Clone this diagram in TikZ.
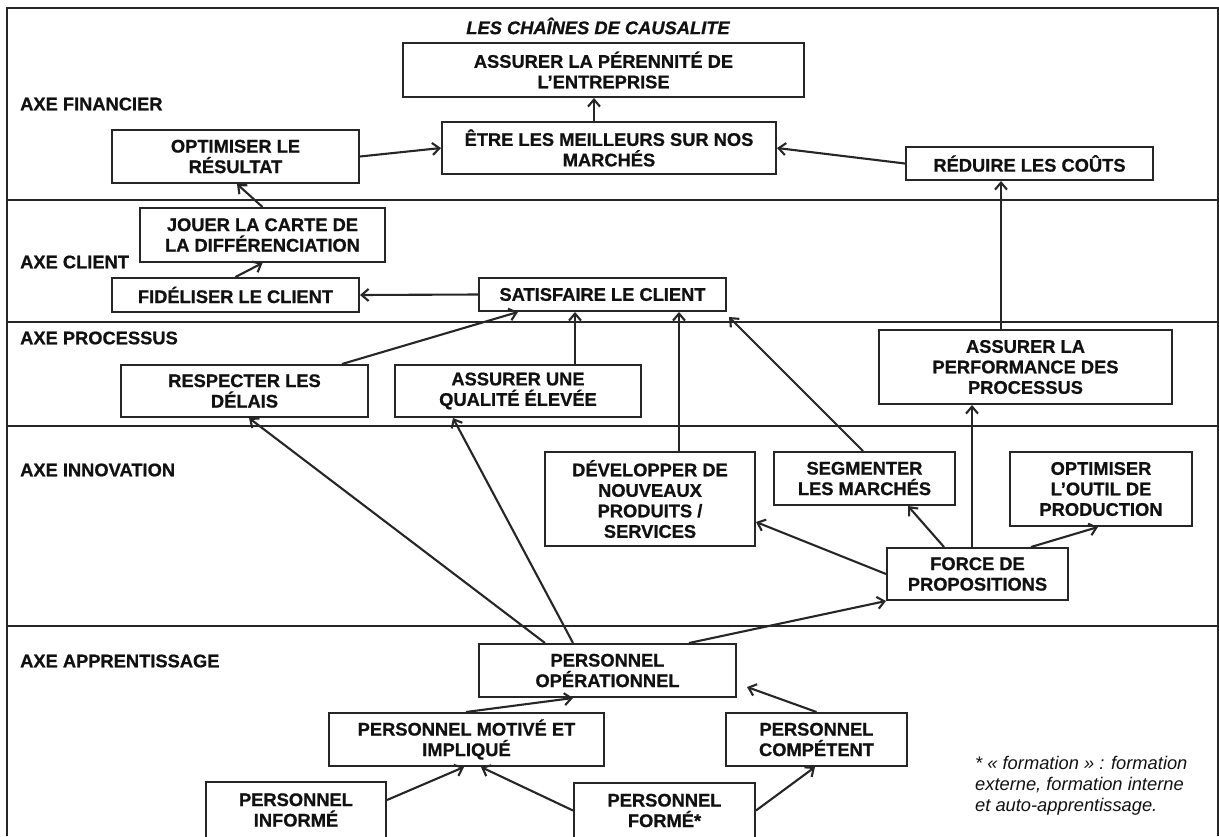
\documentclass[tikz,border=0pt]{standalone}
\usepackage{fontspec}
\setmainfont{Liberation Sans}[BoldFeatures={FakeBold=0.8},BoldItalicFeatures={FakeBold=0.8}]
\usetikzlibrary{arrows.meta,calc}
\newcommand\boxfont{\fontsize{18.3}{20.5}\selectfont\bfseries}
\newcommand\notefont{\fontsize{18.3}{21}\selectfont\itshape}
\definecolor{linec}{HTML}{262626}
\definecolor{txtc}{HTML}{111111}
\begin{document}
\begin{tikzpicture}[x=1pt,y=-1pt,
  boxn/.style={draw=linec, line width=2pt, fill=white, align=center, inner sep=0pt, font=\boxfont, text=txtc},
  axl/.style={anchor=west, font=\boxfont, inner sep=0pt, text=txtc},
  arr/.style={draw=linec, line width=2.1pt, -{Straight Barb[length=7pt,width=12pt]}},
  sepline/.style={draw=linec, line width=1.8pt}]
\useasboundingbox (0,0) rectangle (1219,836);
% frame and bands
\draw[sepline] (7,836) -- (7,8) -- (1218,8) -- (1218,836);
\draw[sepline] (7,200) -- (1218,200);
\draw[sepline] (7,322) -- (1218,322);
\draw[sepline] (7,426) -- (1218,426);
\draw[sepline] (7,626) -- (1218,626);
% title and axis labels
\node[font=\boxfont\itshape, text=txtc, inner sep=0pt] (title) at (598,26) {LES CHAÎNES DE CAUSALITE};
\node[axl] (lfin) at (20,104) {AXE FINANCIER};
\node[axl] (lcli) at (20,262) {AXE CLIENT};
\node[axl] (lpro) at (20,338) {AXE PROCESSUS};
\node[axl] (linn) at (20,470) {AXE INNOVATION};
\node[axl] (lapp) at (20,661) {AXE APPRENTISSAGE};
% boxes
\node[boxn, minimum width=401, minimum height=54] (per) at (603.5,70) {ASSURER LA PÉRENNITÉ DE\\L’ENTREPRISE};
\node[boxn, minimum width=334, minimum height=52] (etre) at (609,148) {ÊTRE LES MEILLEURS SUR NOS\\MARCHÉS};
\node[boxn, minimum width=247, minimum height=53] (optr) at (235.5,156.5) {OPTIMISER LE\\RÉSULTAT};
\node[boxn, minimum width=247, minimum height=33] (red) at (1029.5,163.5) {RÉDUIRE LES COÛTS};
\node[boxn, minimum width=245, minimum height=54] (jouer) at (262.5,235) {JOUER LA CARTE DE\\LA DIFFÉRENCIATION};
\node[boxn, minimum width=247, minimum height=34] (fid) at (235.5,295) {FIDÉLISER LE CLIENT};
\node[boxn, minimum width=247, minimum height=33] (sat) at (602.5,294.5) {SATISFAIRE LE CLIENT};
\node[boxn, minimum width=247, minimum height=52] (resp) at (244.5,391) {RESPECTER LES\\DÉLAIS};
\node[boxn, minimum width=246, minimum height=52] (qual) at (518,391) {ASSURER UNE\\QUALITÉ ÉLEVÉE};
\node[boxn, minimum width=293, minimum height=74] (perf) at (1025.5,367) {ASSURER LA\\PERFORMANCE DES\\PROCESSUS};
\node[boxn, minimum width=210, minimum height=94] (dev) at (650,499) {DÉVELOPPER DE\\NOUVEAUX\\PRODUITS /\\SERVICES};
\node[boxn, minimum width=181, minimum height=53] (seg) at (864.5,478.5) {SEGMENTER\\LES MARCHÉS};
\node[boxn, minimum width=182, minimum height=74] (outil) at (1101,489) {OPTIMISER\\L’OUTIL DE\\PRODUCTION};
\node[boxn, minimum width=181, minimum height=52] (force) at (977.5,574) {FORCE DE\\PROPOSITIONS};
\node[boxn, minimum width=257, minimum height=53] (oper) at (607.5,670.5) {PERSONNEL\\OPÉRATIONNEL};
\node[boxn, minimum width=275, minimum height=53] (motiv) at (466.5,739.5) {PERSONNEL MOTIVÉ ET\\IMPLIQUÉ};
\node[boxn, minimum width=181, minimum height=53] (comp) at (816.5,739.5) {PERSONNEL\\COMPÉTENT};
\node[boxn, minimum width=180, minimum height=56] (inf) at (296,810) {PERSONNEL\\INFORMÉ};
\node[boxn, minimum width=181, minimum height=55] (form) at (664.5,810.5) {PERSONNEL\\FORMÉ*};
% note
\node[font=\notefont, text=txtc, align=left, anchor=west, inner sep=0pt] (note) at (975,786) {* « formation » : formation\\externe, formation interne\\et auto-apprentissage.};
% arrows
\draw[arr] ([xshift=-15]etre.north) -- ([xshift=-15]etre.north |- per.south);
\draw[arr] (optr.east) -- (etre.west);
\draw[arr] (red.west) -- (etre.east);
\draw[arr] (jouer.north) -- ([xshift=1.5]optr.south);
\draw[arr] (fid.north) -- (jouer.south);
\draw[arr] (sat.west) -- (fid.east);
\draw[arr] ([xshift=97.5]resp.north) -- ([xshift=-84.5]sat.south);
\draw[arr] ([xshift=57]qual.north) -- ([xshift=57]qual.north |- sat.south);
\draw[arr] ([xshift=29]dev.north) -- ([xshift=29]dev.north |- sat.south);
\draw[arr] ([xshift=-1.5]seg.north) -- ([xshift=2,yshift=-5]sat.south east);
\draw[arr] ([xshift=-24.5]perf.north) -- ([xshift=-24.5]perf.north |- red.south);
\draw[arr] ([xshift=-5.5]force.north) -- ([xshift=-5.5]force.north |- perf.south);
\draw[arr] (force.west) -- ([yshift=-23]dev.east);
\draw[arr] ([xshift=-33.5]force.north) -- ([xshift=43.5]seg.south);
\draw[arr] ([xshift=53.5]force.north) -- ([xshift=-3]outil.south);
\draw[arr] ([xshift=-62.5]oper.north) -- ([xshift=4.5]resp.south);
\draw[arr] ([xshift=-34.5]oper.north) -- ([xshift=-65]qual.south);
\draw[arr] ([xshift=81.5]oper.north) -- (force.south west);
\draw[arr] ([xshift=-0.5]motiv.north) -- ([xshift=-34.5]oper.south);
\draw[arr] (comp.north) -- ([xshift=10,yshift=-16.5]oper.east);
\draw[arr] ([yshift=10]inf.east) -- ([xshift=-2.5]motiv.south);
\draw[arr] (form.west) -- ([xshift=14.5]motiv.south);
\draw[arr] (form.east) -- ([xshift=-1.5]comp.south);
\end{tikzpicture}
\end{document}
